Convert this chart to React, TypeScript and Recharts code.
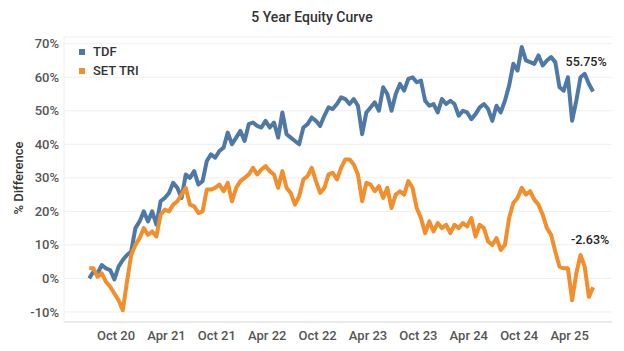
import React from 'react';
import { LineChart, Line, XAxis, YAxis, CartesianGrid } from 'recharts';

// half-month samples, late Jun 2020 -> early Jul 2025 (x = months since Jan 2020)
const START_MONTH = 5.8;
const STEP = 0.5;

const TDF = [
  0, 2, 1.5, 4, 3, 2.5, -0.3, 3.5, 5.5, 7,
  8, 15, 17, 20, 17, 20, 16, 23, 24, 25.5,
  28.5, 27, 24, 31, 30, 32, 28, 29, 35, 37,
  36, 38, 39, 43.5, 40, 42, 44, 41, 46, 46.5,
  45.5, 45, 47, 45, 46.5, 42, 49.5, 43, 42, 41,
  40, 45, 46, 48, 47, 45.5, 48.5, 51, 50.5, 52,
  54, 53.5, 52, 53.5, 51.5, 43, 49.5, 51, 52.5, 50,
  57, 55, 50, 55, 58, 56, 59.5, 60, 58.5, 59,
  53, 51.5, 52, 49.5, 53.5, 52, 53, 52, 48.5, 50,
  49.5, 47.5, 49, 51, 52, 50.5, 47, 51.5, 49.5, 53,
  57.5, 64, 62, 69, 65, 64.5, 64, 66.5, 63.5, 65,
  66, 64.5, 57, 56, 60, 47, 53, 60, 61, 58,
  55.75,
];

const SET_TRI = [
  3, 3, 0.5, 1.5, -1, -2.5, -4.5, -6.5, -9.5, -1,
  7, 10, 12, 15, 13, 14, 12.5, 19, 20.5, 20,
  22, 23, 25, 27, 22, 21.5, 19.5, 20, 26.5, 26.5,
  27, 28, 26, 28.5, 23, 27, 29, 30, 31, 33,
  31, 32.5, 33.5, 32, 31, 27, 32, 27, 25.5, 22,
  24.5, 29.5, 30.5, 33, 29, 25.5, 27, 31, 31.5, 29.5,
  33, 35.5, 35.5, 34, 31, 23, 28.5, 28, 26, 27.5,
  24, 27, 21, 25, 26, 25, 29, 27, 21, 18,
  13.5, 17, 14, 16.5, 15, 16, 13.5, 16, 15, 16.5,
  15.5, 18, 12.5, 16, 15, 11, 10, 12, 8.5, 10,
  18, 22.5, 24, 27, 25, 26, 23.5, 22, 19, 15,
  13, 8, 3.5, 3, 3, -6.5, 1.5, 7, 3.5, -5.5,
  -2.63,
];

const TICK_MONTHS = [9, 15, 21, 27, 33, 39, 45, 51, 57, 63];
const TICK_LABELS = ['Oct 20', 'Apr 21', 'Oct 21', 'Apr 22', 'Oct 22', 'Apr 23', 'Oct 23', 'Apr 24', 'Oct 24', 'Apr 25'];
const Y_TICKS = [-10, 0, 10, 20, 30, 40, 50, 60, 70];

const SERIES = [
  { key: 'tdf', name: 'TDF', color: '#4e79a7' },
  { key: 'set', name: 'SET TRI', color: '#f28e2b' },
];
const FONT = 'Roboto, "Noto Sans", sans-serif';

const data = TDF.map((v, i) => ({ m: START_MONTH + i * STEP, tdf: v, set: SET_TRI[i] }));
const LAST = data.length - 1;

const endLabel = (dx: number, dy: number) => (props: any) => {
  if (props.index !== LAST) return <g />;
  return (
    <text
      x={props.x + dx}
      y={props.y + dy}
      textAnchor="middle"
      fontFamily={FONT}
      fontSize={12.5}
      fontWeight={500}
      fill="#222"
    >
      {`${Number(props.value).toFixed(2)}%`}
    </text>
  );
};

export default function App() {
  return (
    <div style={{ position: 'absolute', left: 0, top: 0, width: 624, height: 351, background: '#fff' }}>
      <div
        style={{
          position: 'absolute',
          top: 9,
          width: 624,
          textAlign: 'center',
          fontFamily: FONT,
          fontSize: 14,
          fontWeight: 500,
          color: '#333',
        }}
      >
        5 Year Equity Curve
      </div>
      <div
        style={{
          position: 'absolute',
          left: 18,
          top: 178,
          transform: 'translate(-50%, -50%) rotate(-90deg)',
          fontFamily: FONT,
          fontSize: 13,
          fontWeight: 500,
          color: '#333',
          whiteSpace: 'nowrap',
        }}
      >
        % Difference
      </div>
      <LineChart width={624} height={351} data={data} margin={{ top: 37, right: 12, left: 0, bottom: 7 }}>
        <CartesianGrid vertical={false} stroke="#efefef" />
        <XAxis
          type="number"
          dataKey="m"
          domain={[2.8, 68.05]}
          ticks={TICK_MONTHS}
          tickFormatter={(v) => TICK_LABELS[TICK_MONTHS.indexOf(v)] ?? ''}
          height={22}
          tickLine={false}
          axisLine={{ stroke: '#dedede' }}
          tick={{ fill: '#555', fontSize: 13, fontFamily: FONT, fontWeight: 500 }}
          tickMargin={7}
          tickSize={2}
        />
        <YAxis
          type="number"
          domain={[-13, 72]}
          ticks={Y_TICKS}
          tickFormatter={(v) => `${v}%`}
          width={64}
          tickLine={false}
          axisLine={{ stroke: '#eeeeee' }}
          tickSize={0}
          tickMargin={5}
          tick={{ fill: '#555', fontSize: 13, fontFamily: FONT, fontWeight: 500 }}
        />
        <Line
          type="linear"
          dataKey="tdf"
          name="TDF"
          stroke={SERIES[0].color}
          strokeWidth={4}
          strokeLinejoin="round"
          dot={false}
          isAnimationActive={false}
          label={endLabel(-7, -25)}
        />
        <Line
          type="linear"
          dataKey="set"
          name="SET TRI"
          stroke={SERIES[1].color}
          strokeWidth={4}
          strokeLinejoin="round"
          dot={false}
          isAnimationActive={false}
          label={endLabel(-3, -43)}
        />
      </LineChart>
      <div
        style={{
          position: 'absolute',
          left: 79,
          top: 42,
          fontFamily: FONT,
          fontSize: 13,
          fontWeight: 500,
          color: '#333',
        }}
      >
        {SERIES.map((s) => (
          <div key={s.key} style={{ display: 'flex', alignItems: 'center', height: 19 }}>
            <span style={{ width: 6, height: 6, background: s.color, marginRight: 8 }} />
            {s.name}
          </div>
        ))}
      </div>
    </div>
  );
}
